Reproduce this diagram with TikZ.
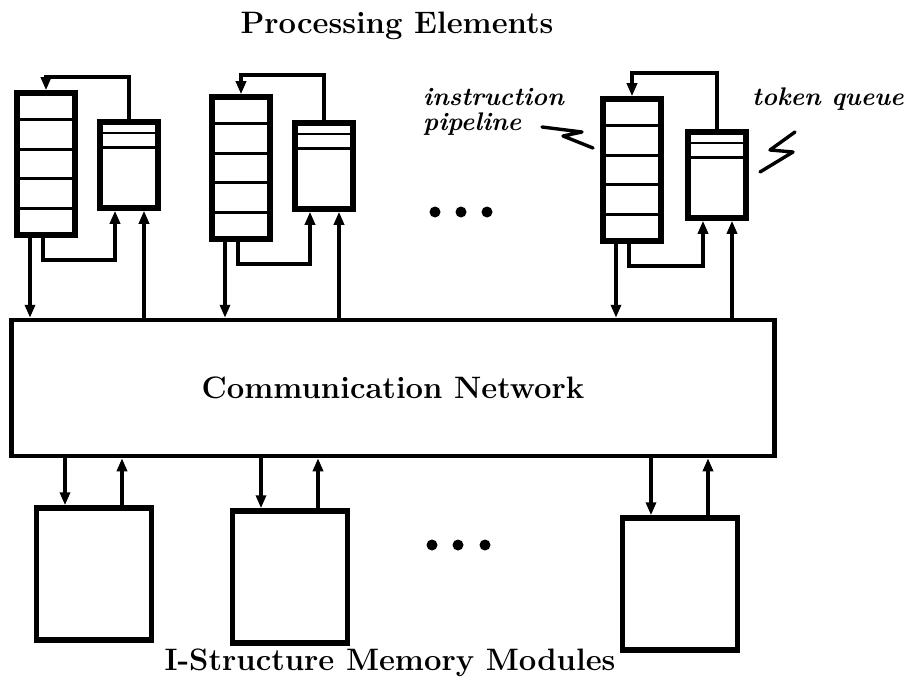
\documentclass[tikz,border=0pt]{standalone}
\usetikzlibrary{arrows.meta,calc}
\begin{document}
\begin{tikzpicture}[x=1pt,y=-1pt,
  box/.style={draw,line width=5.5pt,inner sep=0pt,fill=white},
  arr/.style={line width=3.2pt,-{Triangle[length=13pt,width=10pt]}},
  ln/.style={line width=3.2pt},
  title/.style={font=\fontsize{31}{36}\selectfont\bfseries},
  lbl/.style={font=\fontsize{25.5}{25}\selectfont\bfseries\itshape,align=left,inner sep=0pt},
  dot/.style={circle,fill=black,inner sep=0pt,minimum size=11pt}]
\useasboundingbox (0,0) rectangle (921,685);

% titles
\node[title] (tpe) at (397,26) {Processing Elements};
\node[title] (tmem) at (390,663) {I-Structure Memory Modules};

% network
\node[box,line width=4.5pt,minimum width=763pt,minimum height=136pt] (n) at (393,388) {};
\node[title] (ntext) at (n.center) {Communication Network};

% processing elements: pipelines and token queues
\foreach \i/\px/\py/\tx/\ty/\top in {1/46/164/129/165/77, 2/241/168/324/166/75, 3/632/170/717/175/73}{
  \node[box,minimum width=58pt,minimum height=142pt] (p\i) at (\px,\py) {};
  \node[box,minimum width=58pt,minimum height=86pt] (t\i) at (\tx,\ty) {};
  \foreach \f in {0.2,0.4,0.6,0.8}
    \draw[ln] ($(p\i.north west)!\f!(p\i.south west)$) -- ($(p\i.north east)!\f!(p\i.south east)$);
  \foreach \f in {0.15,0.31}
    \draw[line width=2.4pt] ($(t\i.north west)!\f!(t\i.south west)$) -- ($(t\i.north east)!\f!(t\i.south east)$);
  \coordinate (top\i) at (\tx,\top);
  \draw[arr] (t\i.north) -- (top\i) -| (p\i.north);
  \coordinate (bot\i) at (\px-3,\py+96);
  \draw[arr] ([xshift=-3pt]p\i.south) -- (bot\i) -| ([xshift=-14pt]t\i.south);
  \draw[arr] ([xshift=-16pt]p\i.south) -- ([xshift=-16pt]p\i.south |- n.north);
  \draw[arr] ([xshift=15pt]t\i.south |- n.north) -- ([xshift=15pt]t\i.south);
}

% memory modules
\foreach \i/\mx/\my in {1/94/574, 2/290/577, 3/680/584}{
  \node[box,minimum width=115pt,minimum height=132pt] (m\i) at (\mx,\my) {};
  \draw[arr] ([xshift=-29pt]m\i.north |- n.south) -- ([xshift=-29pt]m\i.north);
  \draw[arr] ([xshift=28pt]m\i.north) -- ([xshift=28pt]m\i.north |- n.south);
}

% ellipsis dots
\foreach \x [count=\k] in {435,461,487} \node[dot] (da\k) at (\x,212) {};
\foreach \x [count=\k] in {432,458,485} \node[dot] (db\k) at (\x,545) {};

% labels
\node[lbl,anchor=north west] (lip) at (423,88) {instruction\\pipeline};
\node[lbl,anchor=north west] (ltq) at (752,88) {token queue};
\coordinate (sq1) at (542,127);
\draw[line width=3.4pt,line cap=round,line join=round] (sq1) -- (582,132) -- (563,136) -- (593,148);
\coordinate (sq2) at (795,132);
\draw[line width=3.4pt,line cap=round,line join=round] (sq2) -- (770,150) -- (793,152) -- (760,172);
\end{tikzpicture}
\end{document}
